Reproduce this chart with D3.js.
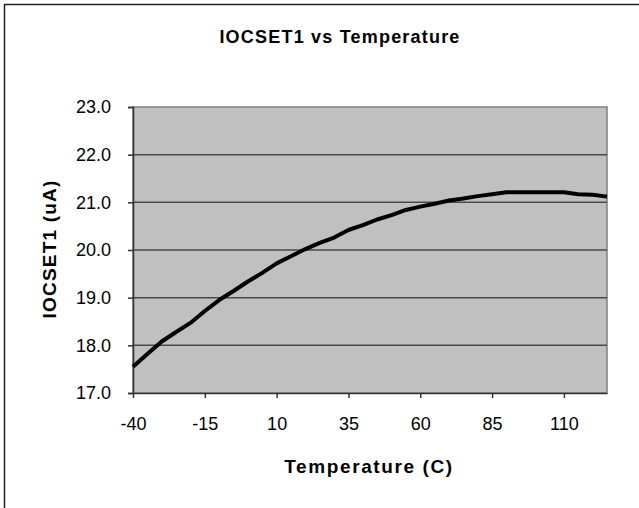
<!DOCTYPE html>
<html><head><meta charset="utf-8">
<script src="https://cdn.jsdelivr.net/npm/d3@7/dist/d3.min.js"></script>
<style>body{margin:0;background:#fff}svg{display:block}text{font-family:"Liberation Sans",Arial,sans-serif}</style>
</head><body>
<svg id="c" width="639" height="508"></svg>
<script>
const temps = [-40,-35,-30,-25,-20,-15,-10,-5,0,5,10,15,20,25,30,35,40,45,50,55,60,65,70,75,80,85,90,95,100,105,110,115,120,125];
const iocset = [17.55,17.82,18.08,18.28,18.47,18.72,18.95,19.14,19.34,19.52,19.72,19.87,20.02,20.15,20.26,20.42,20.52,20.64,20.73,20.84,20.91,20.97,21.04,21.08,21.13,21.17,21.21,21.21,21.21,21.21,21.21,21.17,21.16,21.12];
const xTicks = [-40,-15,10,35,60,85,110];
const yTicks = [17,18,19,20,21,22,23];

const svg = d3.select("#c");
const L=133,R=607,T=107,B=393;
svg.append("rect").attr("x",4.5).attr("y",4.5).attr("width",700).attr("height",600)
  .attr("fill","#fff").attr("stroke","#222").attr("stroke-width",1.5);
const x = d3.scaleLinear().domain([-40,125]).range([L,R]);
const y = d3.scaleLinear().domain([17,23]).range([B,T]);

svg.append("rect").attr("x",L).attr("y",T).attr("width",R-L).attr("height",B-T)
  .attr("fill","#c0c0c0").attr("stroke","#808080").attr("stroke-width",1.5);

svg.append("g").selectAll("line").data(yTicks.slice(1,-1)).join("line")
  .attr("x1",L).attr("x2",R).attr("y1",d=>y(d)).attr("y2",d=>y(d))
  .attr("stroke","#4a4a4a").attr("stroke-width",1.5);

const ya = svg.append("g").attr("transform",`translate(${L},0)`)
  .call(d3.axisLeft(y).tickValues(yTicks).tickFormat(d3.format(".1f")).tickSize(5).tickPadding(17));
ya.select(".domain").attr("stroke","#333").attr("stroke-width",1.5);
ya.selectAll(".tick line").attr("stroke","#333").attr("stroke-width",1.5);
ya.selectAll("text").attr("font-size",18).attr("fill","#000").attr("font-family","Liberation Sans, Arial, sans-serif");

const xa = svg.append("g").attr("transform",`translate(0,${B})`)
  .call(d3.axisBottom(x).tickValues(xTicks).tickFormat(d=>String(d)).tickSize(5).tickSizeOuter(0).tickPadding(19));
xa.select(".domain").attr("stroke","#333").attr("stroke-width",1.5);
xa.selectAll(".tick line").attr("stroke","#333").attr("stroke-width",1.5);
xa.selectAll("text").attr("font-size",18).attr("fill","#000").attr("font-family","Liberation Sans, Arial, sans-serif");

const line = d3.line().x((d,i)=>x(temps[i])).y(d=>y(d));
svg.append("path").datum(iocset).attr("d",line).attr("fill","none")
  .attr("stroke","#000").attr("stroke-width",4).attr("stroke-linejoin","round");

svg.append("text").attr("x",340).attr("y",43).attr("text-anchor","middle")
  .attr("font-size",18).attr("font-weight","bold").attr("letter-spacing",1.2).text("IOCSET1  vs  Temperature");
svg.append("text").attr("x",369).attr("y",473).attr("text-anchor","middle")
  .attr("font-size",19).attr("font-weight","bold").attr("letter-spacing",1.6).text("Temperature (C)");
svg.append("text").attr("transform","translate(56,249) rotate(-90)").attr("text-anchor","middle")
  .attr("font-size",19).attr("font-weight","bold").attr("letter-spacing",1.2).text("IOCSET1 (uA)");
</script>
</body></html>
